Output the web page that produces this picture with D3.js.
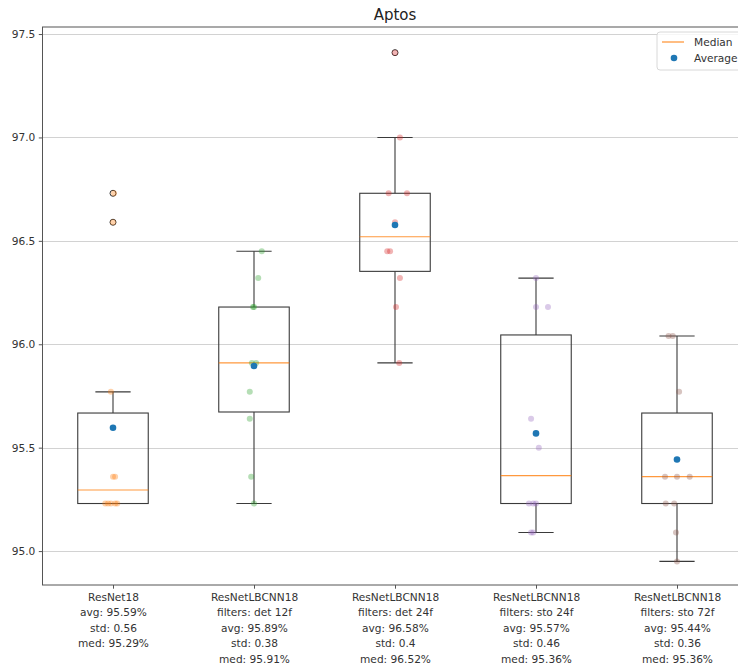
<!DOCTYPE html>
<html><head><meta charset="utf-8">
<script src="https://cdn.jsdelivr.net/npm/d3@7"></script>
<style>
body{margin:0;background:#fff}
svg{display:block}
text{font-family:"DejaVu Sans",sans-serif}
</style>
</head><body>
<svg id="chart" width="738" height="672"></svg>
<script>
// ---- data ----
const chartTitle = "Aptos";
const tickLabels = [
  ["ResNet18", "avg: 95.59%", "std: 0.56", "med: 95.29%"],
  ["ResNetLBCNN18", "filters: det 12f", "avg: 95.89%", "std: 0.38", "med: 95.91%"],
  ["ResNetLBCNN18", "filters: det 24f", "avg: 96.58%", "std: 0.4", "med: 96.52%"],
  ["ResNetLBCNN18", "filters: sto 24f", "avg: 95.57%", "std: 0.46", "med: 95.36%"],
  ["ResNetLBCNN18", "filters: sto 72f", "avg: 95.44%", "std: 0.36", "med: 95.36%"]
];
const resnet18  = [95.23, 95.23, 95.23, 95.23, 95.23, 95.36, 95.36, 95.77, 96.59, 96.73];
const det12f    = [95.23, 95.36, 95.64, 95.77, 95.91, 95.91, 96.18, 96.18, 96.32, 96.45];
const det24f    = [95.91, 96.18, 96.32, 96.45, 96.45, 96.59, 96.73, 96.73, 97.00, 97.41];
const sto24f    = [95.09, 95.09, 95.23, 95.23, 95.23, 95.50, 95.64, 96.18, 96.18, 96.32];
const sto72f    = [94.95, 95.09, 95.23, 95.23, 95.36, 95.36, 95.36, 95.77, 96.04, 96.04];
// horizontal jitter of each point (category units)
const resnet18Jitter = [-0.055, -0.035, -0.015, 0.015, 0.03, 0.0, 0.015, -0.015, 0.0, 0.007];
const det12fJitter   = [0.0, -0.02, -0.03, -0.03, -0.015, 0.015, -0.007, 0.0, 0.03, 0.055];
const det24fJitter   = [0.03, 0.007, 0.035, -0.055, -0.035, 0.0, -0.045, 0.085, 0.035, 0.0];
const sto24fJitter   = [-0.02, -0.035, -0.05, -0.02, 0.0, 0.02, -0.035, 0.0, 0.085, 0.0];
const sto72fJitter   = [0.0, -0.007, -0.08, -0.02, -0.085, 0.0, 0.09, 0.015, -0.06, -0.03];
const series = [resnet18, det12f, det24f, sto24f, sto72f];
const jitters = [resnet18Jitter, det12fJitter, det24fJitter, sto24fJitter, sto72fJitter];
const pointColors = ["#ff7f0e", "#2ca02c", "#d62728", "#9467bd", "#8c564b"];
const yTicks = [95.0, 95.5, 96.0, 96.5, 97.0, 97.5];
const legendLabels = ["Median", "Average"];

(function () {
// ---- layout ----
const svg = d3.select("#chart");
const pL = 42.5, pR = 747.5, pT = 27, pB = 585;
const x = d3.scaleLinear().domain([0.5, 5.5]).range([pL, pR]);
const y = d3.scaleLinear().domain([94.836, 97.534]).range([pB, pT]);
const boxW = x(1.25) - x(1);
const FS = 10.6;

// grid
svg.append("g").selectAll("line").data(yTicks).join("line")
  .attr("x1", pL).attr("x2", pR)
  .attr("y1", d => Math.round(y(d)) + 0.5).attr("y2", d => Math.round(y(d)) + 0.5)
  .attr("stroke", "#d2d2d2").attr("stroke-width", 1);

// box stats
const stats = series.map((vals, i) => {
  const s = vals.slice().sort(d3.ascending);
  const q1 = d3.quantile(s, 0.25), q3 = d3.quantile(s, 0.75), med = d3.quantile(s, 0.5);
  const iqr = q3 - q1;
  const lo = d3.min(s.filter(v => v >= q1 - 1.5 * iqr));
  const hi = d3.max(s.filter(v => v <= q3 + 1.5 * iqr));
  const fliers = s.filter(v => v < lo || v > hi);
  return {i: i + 1, q1, q3, med, lo, hi, fliers, mean: d3.mean(vals)};
});

const gb = svg.append("g");
const ink = "#3a3a3a";
stats.forEach(st => {
  const cx = x(st.i);
  gb.append("line").attr("x1", cx).attr("x2", cx).attr("y1", y(st.q3)).attr("y2", y(st.hi))
    .attr("stroke", ink).attr("stroke-width", 1.1);
  gb.append("line").attr("x1", cx).attr("x2", cx).attr("y1", y(st.q1)).attr("y2", y(st.lo))
    .attr("stroke", ink).attr("stroke-width", 1.1);
  gb.append("line").attr("x1", cx - boxW / 2).attr("x2", cx + boxW / 2).attr("y1", y(st.hi)).attr("y2", y(st.hi))
    .attr("stroke", ink).attr("stroke-width", 1.1);
  gb.append("line").attr("x1", cx - boxW / 2).attr("x2", cx + boxW / 2).attr("y1", y(st.lo)).attr("y2", y(st.lo))
    .attr("stroke", ink).attr("stroke-width", 1.1);
  gb.append("rect").attr("x", cx - boxW).attr("width", 2 * boxW)
    .attr("y", y(st.q3)).attr("height", y(st.q1) - y(st.q3))
    .attr("fill", "none").attr("stroke", ink).attr("stroke-width", 1.1);
  gb.append("line").attr("x1", cx - boxW).attr("x2", cx + boxW).attr("y1", y(st.med)).attr("y2", y(st.med))
    .attr("stroke", "#ff7f0e").attr("stroke-opacity", 0.8).attr("stroke-width", 1.1);
});

// fliers
stats.forEach(st => {
  st.fliers.forEach(v => {
    gb.append("circle").attr("cx", x(st.i)).attr("cy", y(v)).attr("r", 3)
      .attr("fill", "none").attr("stroke", "#333").attr("stroke-width", 1);
  });
});

// scatter points
series.forEach((vals, i) => {
  svg.append("g").selectAll("circle").data(vals).join("circle")
    .attr("cx", (d, j) => x(i + 1 + jitters[i][j]))
    .attr("cy", d => y(d))
    .attr("r", 3)
    .attr("fill", pointColors[i]).attr("fill-opacity", 0.35);
});

// means
svg.append("g").selectAll("circle").data(stats).join("circle")
  .attr("cx", d => x(d.i)).attr("cy", d => y(d.mean)).attr("r", 3.3)
  .attr("fill", "#1f77b4");

// axes
const yAxis = svg.append("g").attr("transform", `translate(${pL},0)`)
  .call(d3.axisLeft(y).tickValues(yTicks).tickFormat(d3.format(".1f")).tickSize(3.7).tickPadding(3.5));
yAxis.select(".domain").remove();
yAxis.selectAll("line").attr("stroke", "#555");
yAxis.selectAll("text").attr("font-size", FS).attr("fill", "#333").style("font-family", "DejaVu Sans");

const xAxis = svg.append("g").attr("transform", `translate(0,${pB})`)
  .call(d3.axisBottom(x).tickValues([1, 2, 3, 4, 5]).tickFormat("").tickSize(3.7));
xAxis.select(".domain").remove();
xAxis.selectAll("line").attr("stroke", "#555");
xAxis.selectAll(".tick").each(function(d) {
  const t = d3.select(this).append("text").attr("text-anchor", "middle")
    .attr("font-size", FS).attr("fill", "#333").style("font-family", "DejaVu Sans");
  tickLabels[d - 1].forEach((line, k) => {
    t.append("tspan").attr("x", 0).attr("y", 16 + k * 15.4).text(line);
  });
});

// spines
svg.append("rect").attr("x", pL).attr("y", pT).attr("width", pR - pL).attr("height", pB - pT)
  .attr("fill", "none").attr("stroke", "#555").attr("stroke-width", 1);

// title
svg.append("text").attr("x", (pL + pR) / 2).attr("y", 20).attr("text-anchor", "middle")
  .attr("font-size", 15).attr("fill", "#222").text(chartTitle);

// legend
const lg = svg.append("g");
lg.append("rect").attr("x", 657).attr("y", 32).attr("width", 85).attr("height", 38).attr("rx", 3)
  .attr("fill", "#fff").attr("fill-opacity", 0.8).attr("stroke", "#d8d8d8");
lg.append("line").attr("x1", 662).attr("x2", 684).attr("y1", 42).attr("y2", 42)
  .attr("stroke", "#ff7f0e").attr("stroke-opacity", 0.8).attr("stroke-width", 1.3);
lg.append("circle").attr("cx", 674).attr("cy", 58).attr("r", 3.3).attr("fill", "#1f77b4");
lg.selectAll("text").data(legendLabels).join("text")
  .attr("x", 694).attr("y", (d, i) => 46 + i * 16)
  .attr("font-size", FS).attr("fill", "#333").text(d => d);
})();
</script>
</body></html>
